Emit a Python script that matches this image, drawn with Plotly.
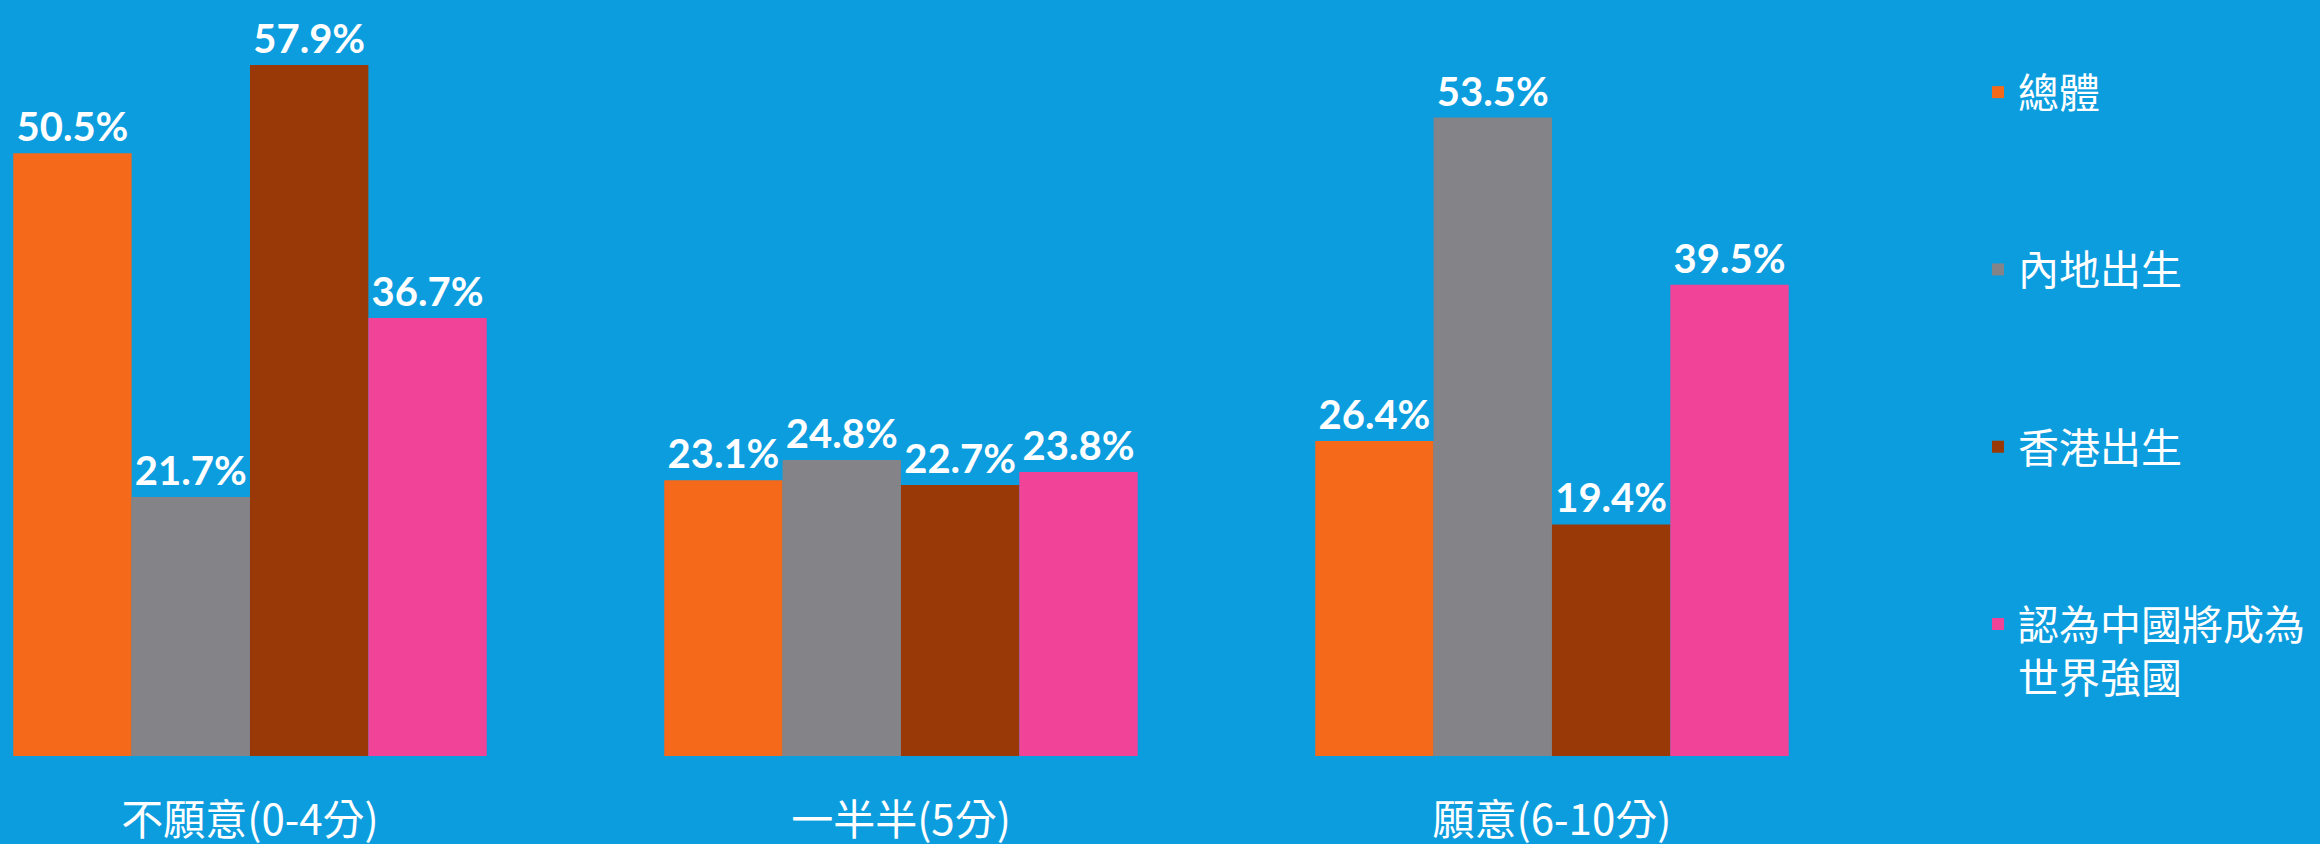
import plotly.graph_objects as go

categories = ["不願意(0-4分)", "一半半(5分)", "願意(6-10分)"]
series_names = ["總體", "內地出生", "香港出生", "認為中國將成為<br>世界強國"]
overall = [50.5, 23.1, 26.4]
mainland_born = [21.7, 24.8, 53.5]
hk_born = [57.9, 22.7, 19.4]
china_power = [36.7, 23.8, 39.5]
colors = ["#F4691A", "#848388", "#983907", "#F14397"]

W, H = 2320, 844
BG = "#0C9DDF"

fig = go.Figure()
for i, (name, vals) in enumerate(zip(series_names, [overall, mainland_born, hk_born, china_power])):
    fig.add_trace(go.Bar(
        x=categories, y=vals, name=name, legendgroup=f"g{i}",
        marker=dict(color=colors[i], line=dict(width=0)),
        text=[f"{v:.1f}%" for v in vals],
        textposition="outside", constraintext="none", cliponaxis=False,
        textfont=dict(family="Lato", size=40, color="white", weight="bold"),
    ))

fig.update_layout(
    width=W, height=H,
    paper_bgcolor=BG, plot_bgcolor=BG,
    margin=dict(l=0, r=0, t=40, b=88),
    barmode="group", bargap=0.2727, bargroupgap=0,
    showlegend=True,
    legend=dict(
        x=0.8526, xanchor="left", y=0.9735, yanchor="top",
        font=dict(family="Noto Sans CJK TC", size=41, color="white"),
        bgcolor="rgba(0,0,0,0)", tracegroupgap=121, valign="top",
        traceorder="grouped",
    ),
    xaxis=dict(
        domain=[0, 1800 / W], range=[-0.384, 2.381], automargin=False,
        showgrid=False, zeroline=False, showline=False,
        ticks="outside", ticklen=28, tickcolor="rgba(0,0,0,0)",
        tickfont=dict(family="Noto Sans CJK TC", size=42, color="white"),
    ),
    yaxis=dict(
        range=[0, 60], showgrid=False, zeroline=False, showline=False,
        showticklabels=False, ticks="", automargin=False,
    ),
)

fig.write_html(
    "out.html",
    config={"displayModeBar": False},
    post_script="document.body.style.margin='0';document.body.style.overflow='hidden';",
)
